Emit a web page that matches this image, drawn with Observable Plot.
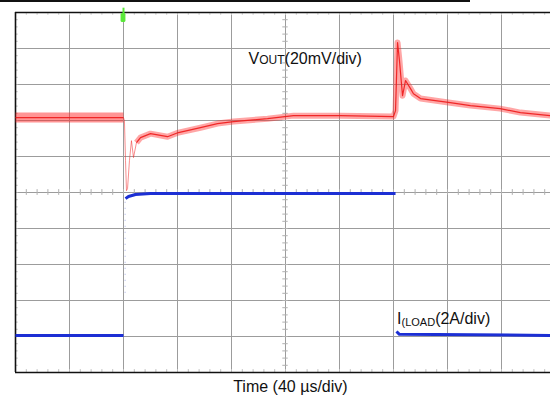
<!DOCTYPE html>
<html><head><meta charset="utf-8">
<script src="https://cdn.jsdelivr.net/npm/d3@7"></script>
<script src="https://cdn.jsdelivr.net/npm/@observablehq/plot@0.6"></script>
<style>
body{margin:0;background:#fff;font-family:"Liberation Sans",Arial,sans-serif;}
#wrap{position:relative;width:550px;height:396px;overflow:hidden;}
#topline{position:absolute;left:0;top:0;width:470px;height:2px;background:#111;}
#wrap svg{position:absolute;left:0;top:0;}
</style></head><body><div id="wrap"><div id="topline"></div></div>
<script>
// Time in µs relative to the load step (40 µs/div)
const xDomain = [-80, 320];
const timeGrid = [-40, 0, 40, 80, 120, 160, 200, 240, 280];
const divGrid = [1, 2, 3, 4, 5, 6, 7, 8, 9];

// VOUT deviation in mV (20 mV/div)
const voutT  = [-80, 0, 0.7, 1.5, 2.2, 3.0, 4.4, 5.9, 7.4, 9.6, 12.6, 20, 32.6, 40.7, 57, 69.6, 81.5, 106.7, 125.9, 160.7, 200, 201.5, 203, 204.4, 206.7, 208.9, 212.6, 214.8, 220, 242, 257, 279, 294, 316, 320];
const voutMV = [0, 0, -1.7, -23.9, -40.6, -39.4, -23.9, -12.8, -22.2, -13.9, -11.1, -8.9, -10.6, -8.3, -5.6, -3.3, -2.2, -0.6, 1.1, 1.1, 0.6, 3.9, 41.7, 31.7, 12.2, 20.6, 16.1, 13.3, 10.6, 8.3, 6.7, 5.0, 2.8, 1.1, 1.1];

// Load current in A (2 A/div)
const iloadT = [-80, 0, null, 1.5, 3.7, 8.9, 20, 201.5, null, 202.2, 204.4, 320];
const iloadA = [0, 0, null, 7.6, 7.72, 7.83, 7.89, 7.89, null, 0.22, 0.06, 0];

// Channel reference positions (divisions from bottom)
const voutZeroDiv = 7.08, voutPerDiv = 20;
const iZeroDiv = 1.03, iPerDiv = 2;

const vout = voutT.map((t, i) => ({t, v: voutMV[i]}));
const iload = iloadT.map((t, i) => ({t, a: iloadA[i]}));
const vDiv = d => voutZeroDiv + d.v / voutPerDiv;
const iDiv = d => d.a == null ? NaN : iZeroDiv + d.a / iPerDiv;

const minorY = d3.range(0, 10.001, 0.2);
const minorX = d3.range(-80, 320.001, 8);

const chart = Plot.plot({
  width: 550, height: 396,
  marginTop: 0, marginBottom: 0, marginLeft: 0, marginRight: 0,
  x: {domain: xDomain, range: [15, 555], axis: null},
  y: {domain: [0, 10], range: [372, 12], axis: null},
  style: {background: "transparent"},
  marks: [
    Plot.ruleX(timeGrid, {y1: 0, y2: 10, stroke: "#9c9c9c", strokeWidth: 1}),
    Plot.ruleY(divGrid, {x1: -80, x2: 320, stroke: "#9c9c9c", strokeWidth: 1}),
    // minor ticks on center lines and frame edges
    Plot.ruleY(minorY, {x1: 118, x2: 122, stroke: "#b0b0b0"}),
    Plot.ruleX(minorX, {y1: 4.92, y2: 5.08, stroke: "#b0b0b0"}),
    Plot.ruleY(minorY, {x1: -80, x2: -78, stroke: "#c0c0c0"}),
    Plot.ruleX(minorX, {y1: 0, y2: 0.08, stroke: "#c0c0c0"}),
    Plot.ruleX(minorX, {y1: 9.92, y2: 10, stroke: "#d0d0d0"}),
    // frame
    Plot.ruleY([0, 10], {x1: -80, x2: 320, stroke: "#111", strokeWidth: 1.6}),
    Plot.ruleX([-80], {y1: 0, y2: 10, stroke: "#111", strokeWidth: 1.6}),
    // load current transition trace (faint)
    Plot.ruleX([1.2], {y1: 2.2, y2: 4.8, stroke: "#8890dd", strokeWidth: 1, strokeDasharray: "1,5", strokeOpacity: 0.7}),
    // VOUT noise band
    Plot.line(vout, {x: "t", y: d => d.t <= 0 ? vDiv(d) : NaN, stroke: "#ff2a2a", strokeWidth: 10, strokeOpacity: 0.5, strokeLinecap: "butt"}),
    Plot.line(vout, {x: "t", y: d => d.t >= 9 ? vDiv(d) : NaN, stroke: "#ff2a2a", strokeWidth: 6, strokeOpacity: 0.42, strokeLinecap: "butt"}),
    // fast transient (faint)
    Plot.line(vout, {x: "t", y: d => d.t >= 0 && d.t <= 9.6 ? vDiv(d) : NaN, stroke: "#f03030", strokeWidth: 1, strokeOpacity: 0.55, strokeLinecap: "butt"}),
    Plot.line(vout, {x: "t", y: d => d.t <= 0 || d.t >= 9.6 ? vDiv(d) : NaN, stroke: "#ee1a1a", strokeWidth: 1.2, strokeOpacity: 0.9, strokeLinecap: "butt"}),
    // load current
    Plot.line(iload, {x: "t", y: iDiv, stroke: "#1c2fd4", strokeWidth: 3, strokeLinecap: "butt"}),
    // trigger marker
    Plot.ruleX([0], {y1: 9.93, y2: 10.12, stroke: "#5ae83a", strokeWidth: 2}),
    Plot.rect([0], {x1: d => d - 1.8, x2: d => d + 1.8, y1: 9.72, y2: 9.97, fill: "#5ae83a", rx: 1.5})
  ]
});
document.getElementById("wrap").appendChild(chart);

const sx = chart.scale("x"), sy = chart.scale("y");
const svg = d3.select(chart);
const font = "Liberation Sans, Arial, sans-serif";

const t1 = svg.append("text").attr("x", sx.apply(93)).attr("y", sy.apply(8.556))
  .attr("text-anchor", "start").attr("font-family", font).attr("font-size", 16).attr("fill", "#111");
t1.append("tspan").text("V");
t1.append("tspan").attr("font-size", 12).attr("dy", 0.5).text("OUT");
t1.append("tspan").attr("dy", -0.5).text("(20mV/div)");

const t2 = svg.append("text").attr("x", sx.apply(203)).attr("y", sy.apply(1.333))
  .attr("text-anchor", "start").attr("font-family", font).attr("font-size", 16).attr("fill", "#111");
t2.append("tspan").text("I");
t2.append("tspan").attr("font-size", 11).attr("dy", 2).text("(LOAD");
t2.append("tspan").attr("dy", -2).text("(2A/div)");

svg.append("text").attr("x", sx.apply(124)).attr("y", sy.apply(-0.556))
  .attr("text-anchor", "middle").attr("font-family", font).attr("font-size", 16).attr("fill", "#111")
  .text("Time (40 µs/div)");
</script></body></html>
